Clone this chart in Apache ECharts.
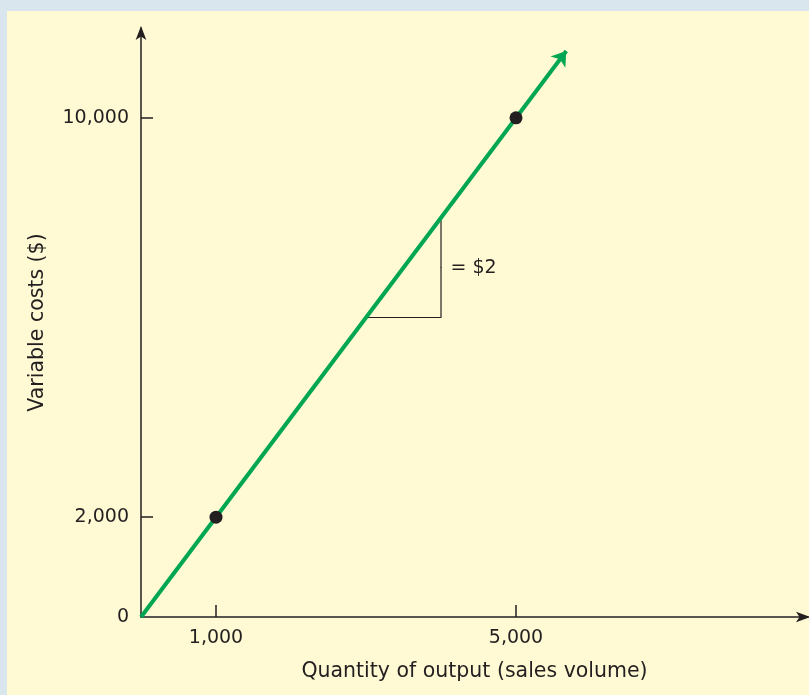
<!DOCTYPE html>
<html>
<head>
<meta charset="utf-8">
<script src="https://cdn.jsdelivr.net/npm/echarts@6/dist/echarts.min.js"></script>
<style>
  html, body { margin: 0; padding: 0; }
  #main { width: 809px; height: 695px; }
</style>
</head>
<body>
<div id="main"></div>
<script>
// data
var xTicks = [1000, 5000];
var yTicks = [0, 2000, 10000];
var points = [[1000, 2000], [5000, 10000]];
var costLine = [[0, 0], [5670, 11340]];
var slopeTriangle = [[3000, 6000], [4000, 6000], [4000, 8000]];
var slopeLabel = [[4000, 7000, "= $2"]];

var ink = "#231f20";
var fontSize = 19;
var nameSize = 20.5;
var chart = echarts.init(document.getElementById("main"));

function fmt(v) {
  return String(v).replace(/\B(?=(\d{3})+(?!\d))/g, ",");
}

var option = {
  backgroundColor: "#d9e6ee",
  animation: false,
  textStyle: { fontFamily: "DejaVu Sans, sans-serif" },
  graphic: [
    {
      type: "rect",
      z: -10,
      shape: { x: 7, y: 11, width: 802, height: 684 },
      style: { fill: "#fffad3" }
    }
  ],
  grid: { left: 141, top: 28, right: 1, bottom: 78, containLabel: false },
  xAxis: {
    type: "value",
    min: 0,
    max: 8893,
    name: "Quantity of output (sales volume)",
    nameLocation: "middle",
    nameGap: 44,
    nameTextStyle: { color: ink, fontSize: nameSize },
    splitLine: { show: false },
    axisLine: {
      show: true,
      symbol: ["none", "arrow"],
      symbolSize: [8, 14],
      symbolOffset: [0, 2],
      lineStyle: { color: ink, width: 1.5 }
    },
    axisTick: {
      show: true,
      inside: true,
      length: 12,
      customValues: xTicks,
      lineStyle: { color: ink, width: 1.5 }
    },
    axisLabel: {
      customValues: xTicks,
      color: ink,
      fontSize: fontSize,
      margin: 12,
      formatter: fmt
    }
  },
  yAxis: {
    type: "value",
    min: 0,
    max: 11800,
    name: "Variable costs ($)",
    nameLocation: "middle",
    nameGap: 93,
    nameTextStyle: { color: ink, fontSize: nameSize },
    splitLine: { show: false },
    axisLine: {
      show: true,
      symbol: ["none", "arrow"],
      symbolSize: [8, 14],
      symbolOffset: [0, 2],
      lineStyle: { color: ink, width: 1.5 }
    },
    axisTick: {
      show: true,
      inside: true,
      length: 12,
      customValues: [2000, 10000],
      lineStyle: { color: ink, width: 1.5 }
    },
    axisLabel: {
      customValues: yTicks,
      color: ink,
      fontSize: fontSize,
      margin: 12,
      formatter: fmt
    }
  },
  series: [
    {
      type: "lines",
      coordinateSystem: "cartesian2d",
      polyline: false,
      symbol: ["none", "arrow"],
      symbolSize: [10, 14],
      lineStyle: { color: "#00a651", width: 4, opacity: 1 },
      data: [{ coords: costLine }],
      z: 3
    },
    {
      type: "line",
      data: slopeTriangle,
      symbol: "none",
      lineStyle: { color: ink, width: 1.2 },
      z: 2
    },
    {
      type: "scatter",
      data: points,
      symbolSize: 13,
      itemStyle: { color: ink, opacity: 1 },
      z: 5
    },
    {
      type: "scatter",
      data: slopeLabel,
      symbolSize: 1,
      itemStyle: { color: ink, opacity: 1 },
      label: {
        show: true,
        position: "right",
        distance: 9,
        color: ink,
        opacity: 1,
        fontSize: fontSize,
        formatter: function (p) { return p.data[2]; }
      }
    }
  ]
};

chart.setOption(option);
window.addEventListener("resize", function () {
  chart.resize();
});
</script>
</body>
</html>
